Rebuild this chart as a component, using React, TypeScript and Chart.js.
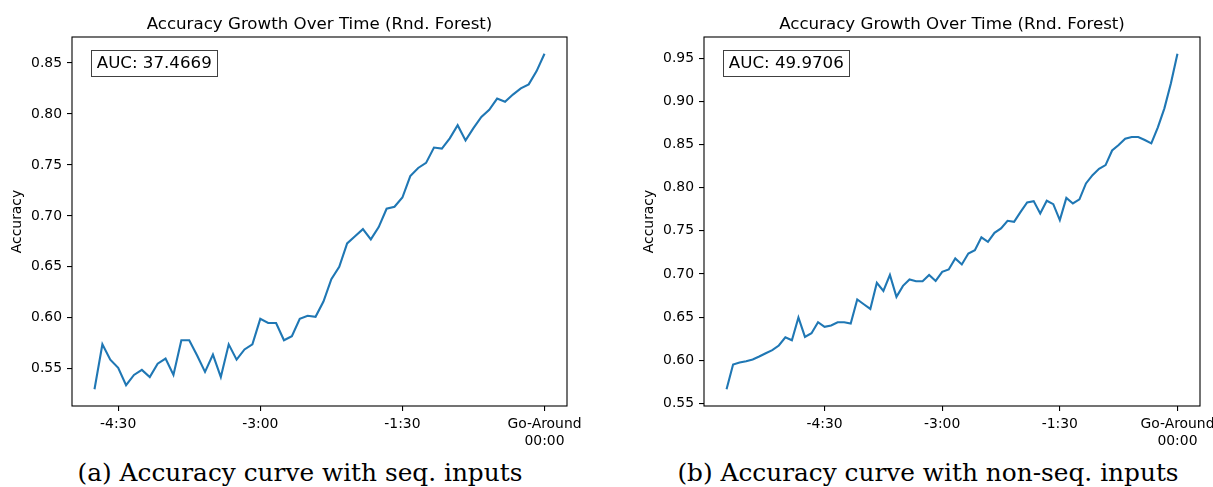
import React, { useEffect, useRef } from "react";
import { Chart, registerables } from "chart.js";

Chart.register(...registerables);

// ---------- data ----------
const TIMES_A = [
  -285, -280, -275, -270, -265, -260, -255, -250, -245, -240, -235, -230, -225, -220, -215,
  -210, -205, -200, -195, -190, -185, -180, -175, -170, -165, -160, -155, -150, -145, -140,
  -135, -130, -125, -120, -115, -110, -105, -100, -95, -90, -85, -80, -75, -70, -65, -60,
  -55, -50, -45, -40, -35, -30, -25, -20, -15, -10, -5, 0,
];
const ACC_A = [
  0.530, 0.574, 0.559, 0.551, 0.534, 0.544, 0.549, 0.542, 0.555, 0.560,
  0.544, 0.578, 0.578, 0.563, 0.547, 0.564, 0.542, 0.574, 0.559, 0.569,
  0.574, 0.599, 0.595, 0.595, 0.578, 0.582, 0.599, 0.602, 0.601, 0.616,
  0.638, 0.650, 0.673, 0.680, 0.687, 0.677, 0.689, 0.707, 0.709, 0.718,
  0.739, 0.747, 0.752, 0.767, 0.766, 0.776, 0.789, 0.774, 0.786, 0.797,
  0.804, 0.815, 0.812, 0.819, 0.825, 0.829, 0.842, 0.859,
];
const TIMES_B = [
  -345, -340, -335, -330, -325, -320, -315, -310, -305, -300, -295, -290,
  -285, -280, -275, -270, -265, -260, -255, -250, -245, -240, -235, -230, -225, -220, -215,
  -210, -205, -200, -195, -190, -185, -180, -175, -170, -165, -160, -155, -150, -145, -140,
  -135, -130, -125, -120, -115, -110, -105, -100, -95, -90, -85, -80, -75, -70, -65, -60,
  -55, -50, -45, -40, -35, -30, -25, -20, -15, -10, -5, 0,
];
const ACC_B = [
  0.5666, 0.5952, 0.5975, 0.5990, 0.6010, 0.6045, 0.6083, 0.6118, 0.6172, 0.6268,
  0.6233, 0.6497, 0.6272, 0.6315, 0.6442, 0.6388, 0.6404, 0.6442, 0.6442, 0.6427,
  0.6705, 0.6650, 0.6596, 0.6898, 0.6805, 0.6990, 0.6735, 0.6863, 0.6937, 0.6917,
  0.6917, 0.6990, 0.6920, 0.7025, 0.7053, 0.7180, 0.7111, 0.7238, 0.7276, 0.7424,
  0.7373, 0.7477, 0.7528, 0.7616, 0.7604, 0.7720, 0.7829, 0.7844, 0.7702, 0.7848,
  0.7809, 0.7624, 0.7882, 0.7817, 0.7864, 0.8049, 0.8145, 0.8218, 0.8261, 0.8430,
  0.8493, 0.8566, 0.8586, 0.8586, 0.8551, 0.8513, 0.8698, 0.8918, 0.9208, 0.9550,
];
const AUC_A = "AUC: 37.4669";
const AUC_B = "AUC: 49.9706";
const TITLE = "Accuracy Growth Over Time (Rnd. Forest)";
const Y_LABEL = "Accuracy";
const X_TICK_VALUES = [-270, -180, -90, 0];
const X_TICK_LABELS: (string | string[])[] = ["-4:30", "-3:00", "-1:30", ["Go-Around", "00:00"]];
const Y_TICKS_A = [0.55, 0.6, 0.65, 0.7, 0.75, 0.8, 0.85];
const Y_TICKS_B = [0.55, 0.6, 0.65, 0.7, 0.75, 0.8, 0.85, 0.9, 0.95];
const CAPTION_A = "(a) Accuracy curve with seq. inputs";
const CAPTION_B = "(b) Accuracy curve with non-seq. inputs";

const FONT = '"DejaVu Sans", "Liberation Sans", sans-serif';

type Props = {
  times: number[];
  acc: number[];
  auc: string;
  yTicks: number[];
  left: number;
  width: number;
  rightPad: number;
};

function AccuracyChart({ times, acc, auc, yTicks, left, width, rightPad }: Props) {
  const ref = useRef<HTMLCanvasElement | null>(null);
  useEffect(() => {
    const t0 = times[0];
    const t1 = times[times.length - 1];
    const span = t1 - t0;
    const lo = Math.min(...acc);
    const hi = Math.max(...acc);
    const ySpan = hi - lo;

    const decor = {
      id: "decor",
      afterDraw(chart: any) {
        const { ctx, chartArea: ca } = chart;
        const w = ca.right - ca.left;
        const h = ca.bottom - ca.top;
        ctx.save();
        // title
        ctx.fillStyle = "#000";
        ctx.font = `16.67px ${FONT}`;
        ctx.textAlign = "center";
        ctx.textBaseline = "alphabetic";
        ctx.fillText(TITLE, (ca.left + ca.right) / 2, ca.top - 8.3);
        // AUC box
        ctx.font = `16.67px ${FONT}`;
        ctx.textAlign = "left";
        const tw = ctx.measureText(auc).width;
        const tx = ca.left + 0.05 * w;
        const ttop = ca.top + 0.05 * h;
        const base = ttop + 12.2;
        const bx = Math.round(tx - 5.5) + 0.5;
        const by = Math.round(ttop - 5) + 0.5;
        const bw = Math.round(tw + 11);
        const bh = 26;
        ctx.fillStyle = "#fff";
        ctx.fillRect(bx, by, bw, bh);
        ctx.strokeStyle = "rgba(0,0,0,0.75)";
        ctx.lineWidth = 1;
        ctx.strokeRect(bx, by, bw, bh);
        ctx.fillStyle = "#000";
        ctx.fillText(auc, tx, base);
        // frame
        ctx.strokeStyle = "#000";
        ctx.lineWidth = 1.1;
        ctx.strokeRect(ca.left, ca.top, w, h);
        ctx.restore();
      },
    };

    const chart = new Chart(ref.current as HTMLCanvasElement, {
      type: "line",
      data: {
        datasets: [
          {
            data: times.map((t, i) => ({ x: t, y: acc[i] })),
            borderColor: "#1f77b4",
            borderWidth: 2.1,
            pointRadius: 0,
            fill: false,
            tension: 0,
          },
        ],
      },
      options: {
        animation: false,
        responsive: false,
        devicePixelRatio: 1,
        layout: { padding: { left: 0, top: 37, right: rightPad, bottom: 0 } },
        plugins: {
          legend: { display: false },
          tooltip: { enabled: false },
          title: { display: false },
        },
        scales: {
          x: {
            type: "linear",
            min: t0 - 0.05 * span,
            max: t1 + 0.05 * span,
            afterBuildTicks: (s: any) => {
              s.ticks = X_TICK_VALUES.map((v) => ({ value: v }));
            },
            afterFit: (s: any) => {
              s.height = 44;
              s.paddingLeft = 0;
              s.paddingRight = 0;
            },
            ticks: {
              callback: (_v: any, i: number) => X_TICK_LABELS[i],
              autoSkip: false,
              maxRotation: 0,
              minRotation: 0,
              padding: 5,
              color: "#000",
              font: { family: FONT, size: 13.9 },
            },
            grid: {
              display: true,
              drawOnChartArea: false,
              drawTicks: true,
              tickLength: 5,
              color: "#000",
              lineWidth: 1.1,
            },
            border: { display: false },
          },
          y: {
            type: "linear",
            min: lo - 0.05 * ySpan,
            max: hi + 0.05 * ySpan,
            afterBuildTicks: (s: any) => {
              s.ticks = yTicks.map((v) => ({ value: v }));
            },
            afterFit: (s: any) => {
              s.width = 72;
              s.paddingTop = 0;
              s.paddingBottom = 0;
            },
            ticks: {
              callback: (v: any) => Number(v).toFixed(2),
              padding: 5,
              color: "#000",
              font: { family: FONT, size: 13.9 },
            },
            grid: {
              display: true,
              drawOnChartArea: false,
              drawTicks: true,
              tickLength: 5,
              color: "#000",
              lineWidth: 1.1,
            },
            border: { display: false },
            title: {
              display: true,
              text: Y_LABEL,
              color: "#000",
              font: { family: FONT, size: 13.9 },
              padding: { top: 9, bottom: 0 },
            },
          },
        },
      } as any,
      plugins: [decor],
    });
    return () => chart.destroy();
  }, []);
  return (
    <canvas
      ref={ref}
      width={width}
      height={450}
      style={{ position: "absolute", left, top: 0, width, height: 450 }}
    />
  );
}

const captionStyle: React.CSSProperties = {
  position: "absolute",
  top: 458,
  width: 600,
  height: 30,
  lineHeight: "30px",
  textAlign: "center",
  fontFamily: '"DejaVu Serif", serif',
  fontSize: 24.8,
  color: "#000",
  whiteSpace: "nowrap",
};

export default function App() {
  return (
    <div
      style={{
        position: "absolute",
        left: 0,
        top: 0,
        width: 1213,
        height: 487,
        overflow: "hidden",
        background: "#fff",
      }}
    >
      <AccuracyChart times={TIMES_A} acc={ACC_A} auc={AUC_A} yTicks={Y_TICKS_A} left={0} width={606} rightPad={39} />
      <AccuracyChart times={TIMES_B} acc={ACC_B} auc={AUC_B} yTicks={Y_TICKS_B} left={632} width={581} rightPad={13} />
      <div style={{ ...captionStyle, left: 0 }}>{CAPTION_A}</div>
      <div style={{ ...captionStyle, left: 628 }}>{CAPTION_B}</div>
    </div>
  );
}
